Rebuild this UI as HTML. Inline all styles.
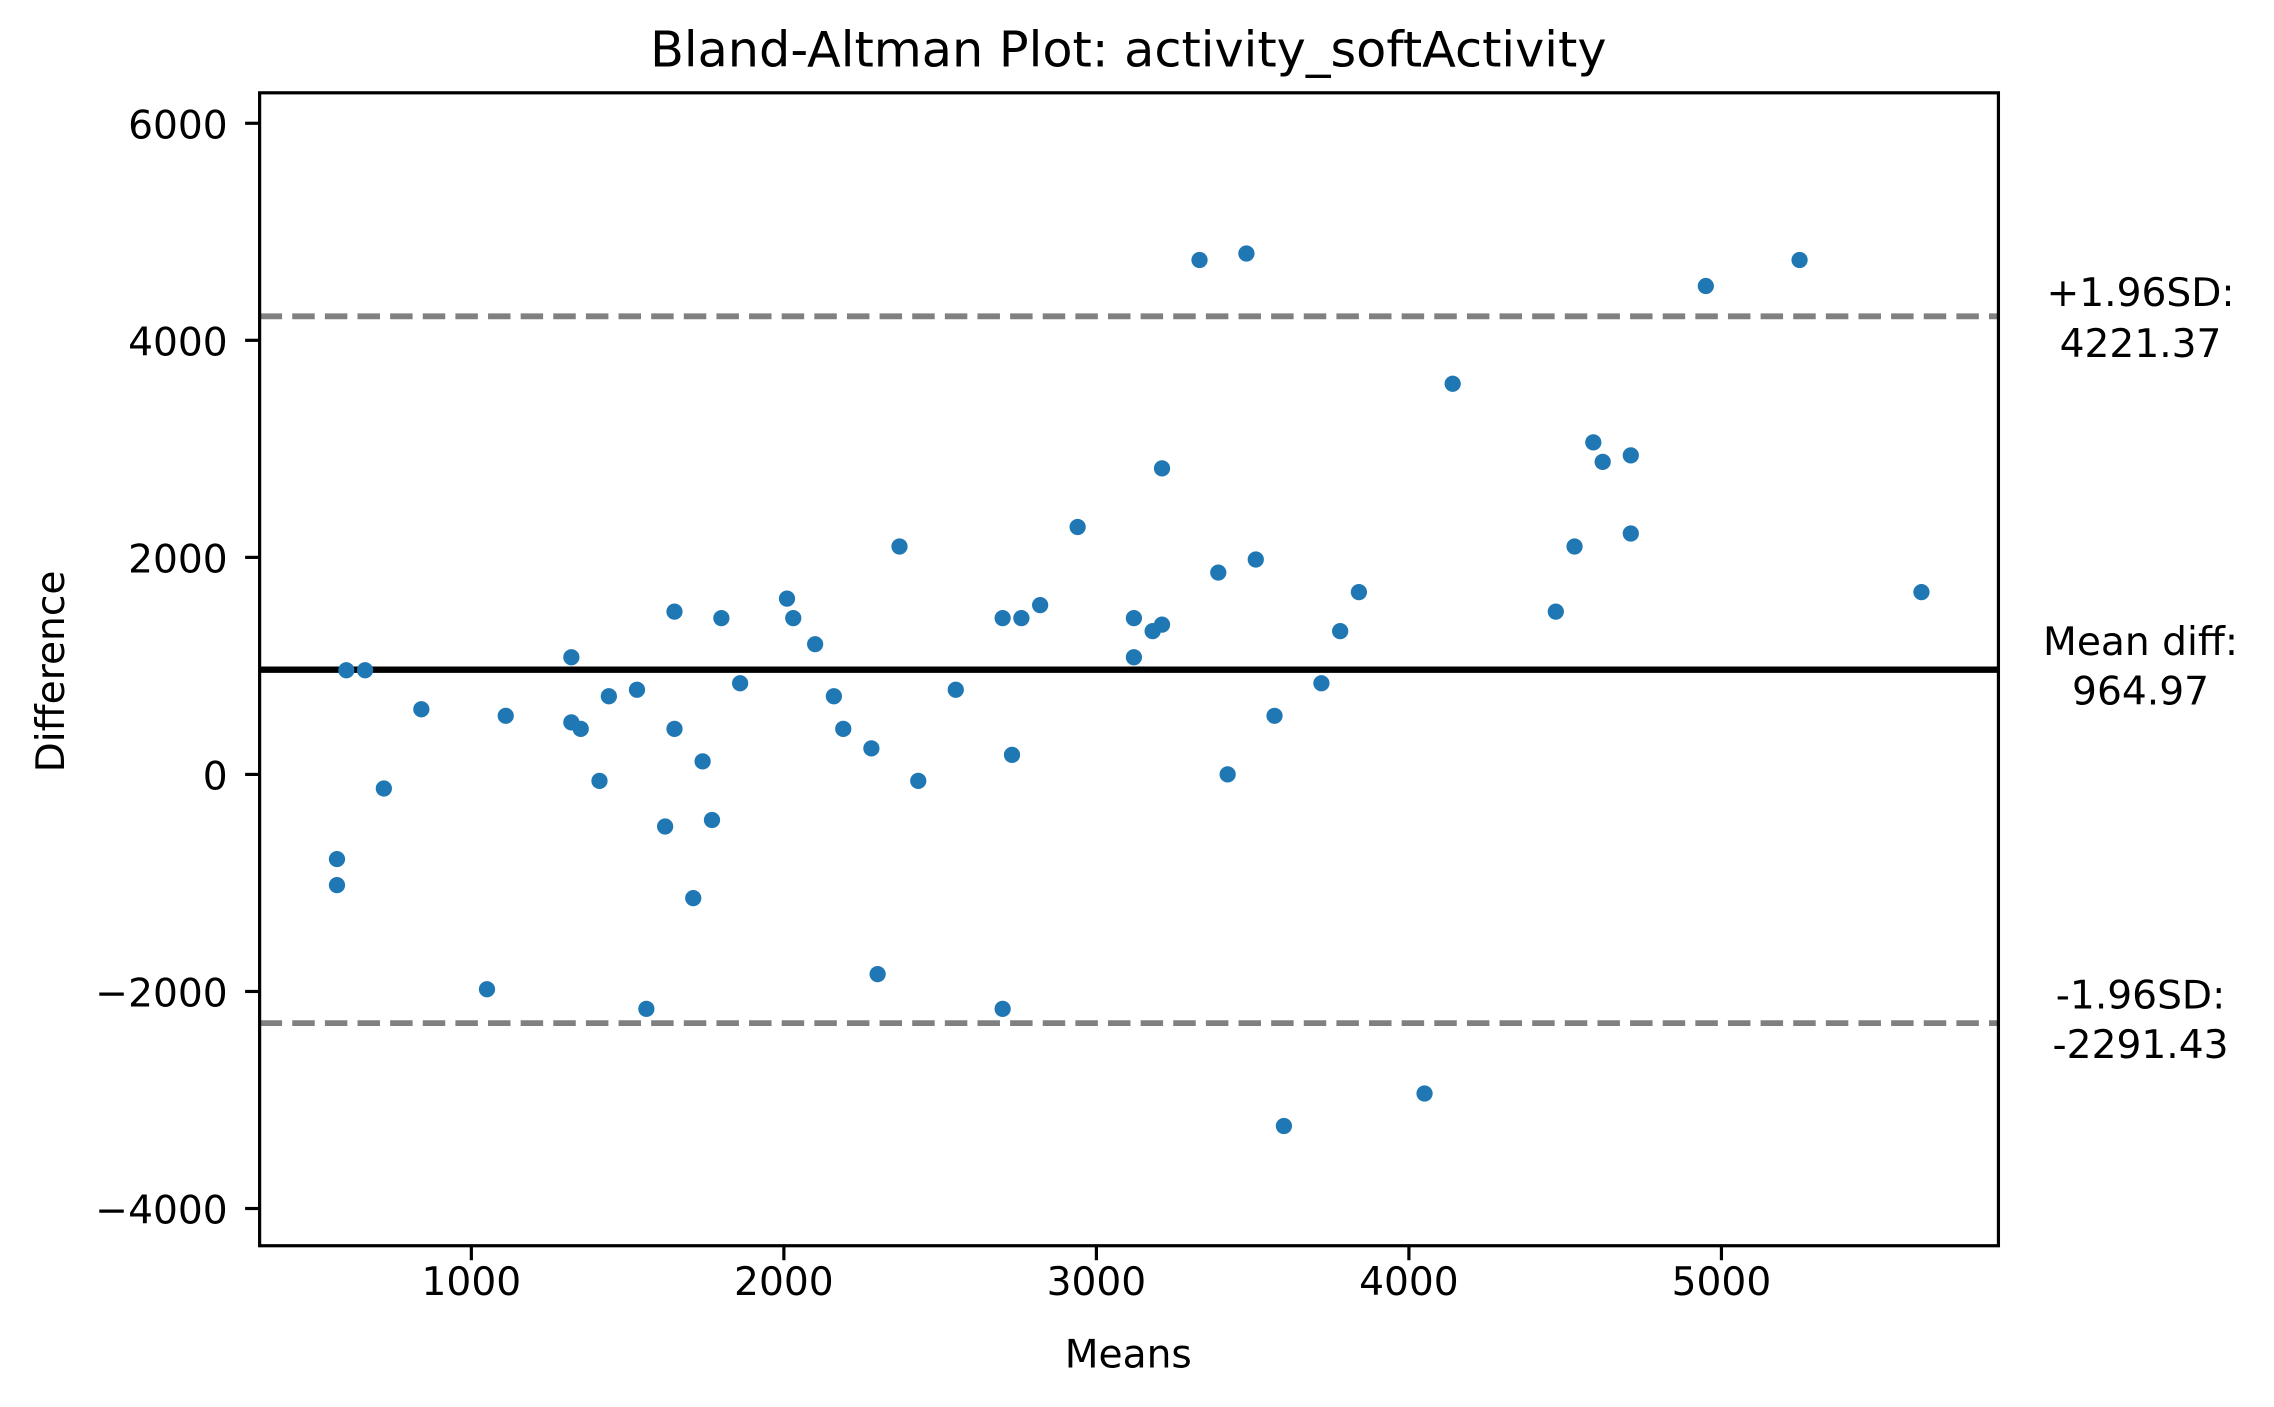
<!DOCTYPE html>
<html><head><meta charset="utf-8"><style>
html,body{margin:0;padding:0;background:#fff}
svg{display:block}
text{font-family:"DejaVu Sans","Liberation Sans",sans-serif;fill:#000}
</style></head><body>
<svg id="chart" width="2274" height="1407" viewBox="0 0 1568 970.2" xmlns="http://www.w3.org/2000/svg">
<rect width="1568" height="970.2" fill="#fff"/>
<g id="plot"></g>
</svg>
<script>
const means = [570,570,600,660,720,840,1050,1110,1320,1320,1350,1410,1440,1530,1560,1620,1650,1650,1710,1740,1770,1800,1860,2010,2030,2100,2160,2190,2280,2300,2370,2430,2550,2700,2700,2730,2760,2820,2940,3120,3120,3180,3210,3210,3330,3390,3420,3480,3510,3570,3600,3720,3780,3840,4050,4140,4470,4530,4590,4620,4710,4710,4950,5250,5640];
const diffs = [-780,-1020,960,960,-130,600,-1980,540,1080,480,420,-60,720,780,-2160,-480,1500,420,-1140,120,-420,1440,840,1620,1440,1200,720,420,240,-1840,2100,-60,780,1440,-2160,180,1440,1560,2280,1440,1080,1320,1380,2820,4740,1860,0,4800,1980,540,-3240,840,1320,1680,-2940,3600,1500,2100,3060,2880,2940,2220,4500,4740,1680];
const xTicks = [1000,2000,3000,4000,5000];
const yTicks = [6000,4000,2000,0,-2000,-4000];
const meanDiff = 964.97;
const upperLoA = 4221.37;
const lowerLoA = -2291.43;

const L=179,R=1378,T=64,B=859;
const X = v => 325 + (v-1000)*(1187-325)/4000;
const Y = v => 534 - v*(534-85)/6000;
const ns="http://www.w3.org/2000/svg";
const g=document.getElementById('plot');
function mk(tag,attrs,parent){const e=document.createElementNS(ns,tag);for(const k in attrs)e.setAttribute(k,attrs[k]);(parent||g).appendChild(e);return e;}
function txt(x,y,s,size,anchor,extra){const t=mk('text',Object.assign({x:x,y:y,'font-size':size,'text-anchor':anchor||'middle'},extra||{}));t.textContent=s;return t;}

let e;
e=mk('line',{x1:L,x2:R,y1:Y(upperLoA),y2:Y(upperLoA),stroke:'#808080','stroke-width':4,'stroke-dasharray':'15.5,7'});


e=mk('line',{x1:L,x2:R,y1:Y(lowerLoA),y2:Y(lowerLoA),stroke:'#808080','stroke-width':4,'stroke-dasharray':'15.5,7'});


e=mk('line',{x1:L,x2:R,y1:Y(meanDiff),y2:Y(meanDiff),stroke:'#000','stroke-width':4.4});



for(let i=0;i<means.length;i++){
  const c=mk('circle',{cx:X(means[i]),cy:Y(diffs[i]),r:5.6,fill:'#1f77b4'});
  
  
}

e=mk('rect',{x:L,y:T,width:R-L,height:B-T,fill:'none',stroke:'#000','stroke-width':2.2});



for(const v of xTicks){
  mk('line',{x1:X(v),x2:X(v),y1:B,y2:B+10,stroke:'#000','stroke-width':2.2});
  const t=txt(X(v),B+34,String(v),27);
  
  
}
for(const v of yTicks){
  mk('line',{x1:L-10,x2:L,y1:Y(v),y2:Y(v),stroke:'#000','stroke-width':2.2});
  const t=txt(L-22,Y(v)+10.5,v<0?'\u2212'+Math.abs(v):String(v),27,'end');
  
  
}

e=txt(778,46,'Bland-Altman Plot: activity_softActivity',34);


e=txt(778,943,'Means',27);


e=txt(0,0,'Difference',27,'middle',{transform:'translate(44,463) rotate(-90)'});



e=txt(1476,Y(upperLoA)-7,'+1.96SD:',27);


e=txt(1476,Y(upperLoA)+28,upperLoA.toFixed(2),27);


e=txt(1476,Y(meanDiff)-10,'Mean diff:',27);


e=txt(1476,Y(meanDiff)+24,meanDiff.toFixed(2),27);


e=txt(1476,Y(lowerLoA)-10,'-1.96SD:',27);


e=txt(1476,Y(lowerLoA)+24,lowerLoA.toFixed(2),27);


</script>
</body></html>
